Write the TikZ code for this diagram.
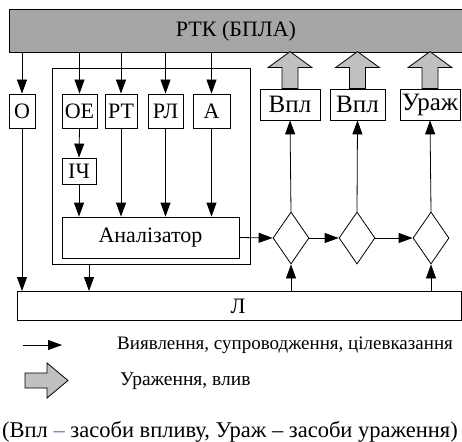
\documentclass[tikz,border=0pt]{standalone}
\usepackage{fontspec}
\setmainfont{Liberation Serif}
\usetikzlibrary{arrows.meta,shapes.geometric}
\definecolor{bargray}{RGB}{166,166,166}
\definecolor{fatgray}{RGB}{192,192,192}
\definecolor{dashblue}{RGB}{110,110,200}
\tikzset{
  box/.style={draw, line width=0.8pt, fill=white, inner sep=0pt, font=\fontsize{22}{22}\selectfont},
  bigbox/.style={box, font=\fontsize{25}{25}\selectfont},
  dia/.style={draw, line width=0.8pt, diamond, minimum width=36pt, minimum height=52pt, inner sep=0pt, aspect=0.7},
  conn/.style={line width=0.8pt, -{Triangle[length=14pt,width=10pt]}},
  fatup/.pic={\draw[line width=0.8pt, fill=fatgray] (-8,0) -- (-8,-21) -- (-22,-21) -- (0,-37) -- (22,-21) -- (8,-21) -- (8,0) -- cycle;},
}
\begin{document}
\begin{tikzpicture}[x=1pt,y=-1pt]
\useasboundingbox (0,0) rectangle (462,441);
% top bar
\node[box, fill=bargray, minimum width=457pt, minimum height=43pt, anchor=north west] (bar) at (9,9) {};
\node[font=\fontsize{22}{22}\selectfont] (bartxt) at (236,31) {РТК (БПЛА)};
% inner frame
\node[draw, line width=0.8pt, minimum width=198pt, minimum height=196pt, anchor=north west, inner sep=0pt] (frame) at (52,68) {};
% sensor boxes
\node[box, minimum width=26pt, minimum height=34pt] (O) at (22,111) {О};
\node[box, minimum width=35pt, minimum height=34pt] (OE) at (79.5,111) {ОЕ};
\node[box, minimum width=32pt, minimum height=34pt] (RT) at (121,111) {РТ};
\node[box, minimum width=35pt, minimum height=34pt] (RL) at (165.5,111) {РЛ};
\node[box, minimum width=37pt, minimum height=34pt] (A) at (211.5,111) {А};
\node[box, minimum width=34pt, minimum height=26pt] (IC) at (79,171) {ІЧ};
\node[box, minimum width=177pt, minimum height=41pt] (an) at (150.5,237.5) {Аналізатор};
% effectors
\node[bigbox, minimum width=60pt, minimum height=31pt] (v1) at (290,104.5) {Впл};
\node[bigbox, minimum width=55pt, minimum height=31pt] (v2) at (357.5,104.5) {Впл};
\node[bigbox, minimum width=60pt, minimum height=31pt] (u) at (430,104.5) {Ураж};
% diamonds
\node[dia] (d1) at (291,238) {};
\node[dia] (d2) at (357,238) {};
\node[dia] (d3) at (431,238) {};
% L
\node[box, minimum width=444pt, minimum height=29pt, anchor=north west] (L) at (17,291) {};
\node[font=\fontsize{22}{22}\selectfont] (Ltxt) at (238,306) {Л};
% arrows from bar
\draw[conn] (O.north |- bar.south) -- (O.north);
\draw[conn] (OE.north |- bar.south) -- (OE.north);
\draw[conn] (RT.north |- bar.south) -- (RT.north);
\draw[conn] (RL.north |- bar.south) -- (RL.north);
\draw[conn] (A.north |- bar.south) -- (A.north);
% into analyser
\draw[conn] (OE.south) -- (IC.north);
\draw[conn] (IC.south) -- (IC.south |- an.north);
\draw[conn] (RT.south) -- (RT.south |- an.north);
\draw[conn] (RL.south) -- (RL.south |- an.north);
\draw[conn] (A.south) -- (A.south |- an.north);
% analyser chain
\draw[conn] (an.east) -- (d1.west);
\draw[conn] (d1.east) -- (d2.west);
\draw[conn] (d2.east) -- (d3.west);
% up to effectors
\draw[conn] (d1.north) -- (v1.south);
\draw[conn] (d2.north) -- (v2.south);
\draw[conn] (d3.north) -- (u.south);
% into L
\draw[conn] (O.south) -- (O.south |- L.north);
\coordinate (fo) at (89,264);
\draw[conn] (fo) -- (fo |- L.north);
\draw[conn] (d1.south |- L.north) -- (d1.south);
\draw[conn] (d3.south |- L.north) -- (d3.south);
% fat arrows
\pic at (v1.north) {fatup};
\pic at (v2.north) {fatup};
\pic at (u.north) {fatup};
% legend
\coordinate (la) at (23,345);
\coordinate (lb) at (62,345);
\draw[conn] (la) -- (lb);
\node[anchor=west, font=\fontsize{19}{19}\selectfont, inner sep=0pt] (lt1) at (117,345) {Виявлення, супроводження, цілевказання};
\draw[line width=0.8pt, fill=fatgray] (25,373) -- (47,373) -- (47,363) -- (68,380.5) -- (47,398) -- (47,388) -- (25,388) -- cycle;
\node[anchor=west, font=\fontsize{19.5}{19.5}\selectfont, inner sep=0pt] (lt2) at (120,381) {Ураження, влив};
\node[font=\fontsize{22.5}{22.5}\selectfont, inner sep=0pt] (lt3) at (230,432) {(Впл \textcolor{dashblue}{–} засоби впливу, Ураж – засоби ураження)};
\end{tikzpicture}
\end{document}
